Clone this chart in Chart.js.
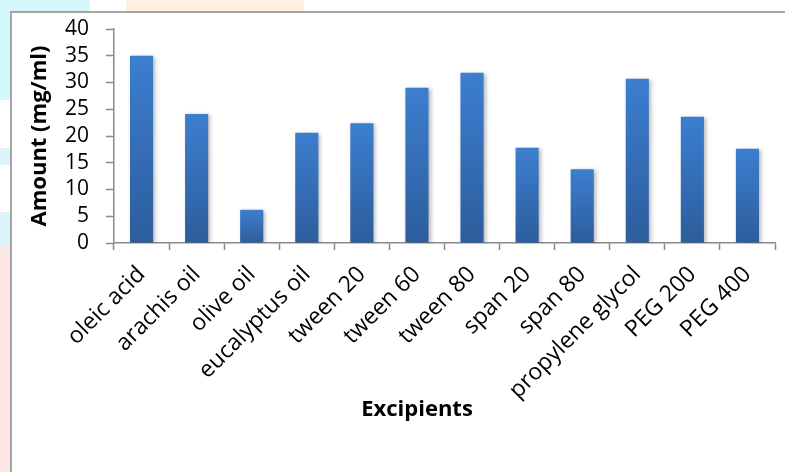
<!DOCTYPE html>
<html>
<head>
<meta charset="utf-8">
<script src="https://cdn.jsdelivr.net/npm/chart.js@4.4.1/dist/chart.umd.min.js"></script>
<style>
  html, body { margin: 0; padding: 0; background: #fff; }
  #wrap { width: 785px; height: 472px; position: relative; }
</style>
</head>
<body>
<div id="wrap"><canvas id="excipientChart" width="785" height="472"></canvas></div>
<script>
// solubility per excipient
const excipients = ['oleic acid', 'arachis oil', 'olive oil', 'eucalyptus oil', 'tween 20', 'tween 60',
                    'tween 80', 'span 20', 'span 80', 'propylene glycol', 'PEG 200', 'PEG 400'];
const amounts = [35.0, 24.1, 6.2, 20.6, 22.4, 29.0, 31.8, 17.8, 13.8, 30.7, 23.6, 17.6];
const yTicks = [0, 5, 10, 15, 20, 25, 30, 35, 40];
const xTitle = 'Excipients';

const axisGray = '#8a8a8a';
const fontFamily = '"Open Sans", Lato, sans-serif';

// chart frame; its right side runs past the canvas edge
const FRAME_LEFT = 11, FRAME_TOP = 12, FRAME_RIGHT = 823;

// vertical blue gradient for the bars, lighter at the top
function barGradient(context) {
    const chart = context.chart;
    if (!chart.chartArea) return '#3a7bcc';
    const y0 = chart.scales.y.getPixelForValue(0);
    const yTop = chart.scales.y.getPixelForValue(context.raw || 0);
    const g = chart.ctx.createLinearGradient(0, yTop, 0, y0);
    g.addColorStop(0, '#3c7ed0');
    g.addColorStop(1, '#2d5d9c');
    return g;
}

// page background bits and the outer frame
const backdrop = {
    id: 'backdrop',
    beforeDraw(chart) {
        const ctx = chart.ctx;
        ctx.save();
        ctx.fillStyle = '#fff';
        ctx.fillRect(0, 0, chart.width, chart.height);
        ctx.fillStyle = '#d4f8fb';
        ctx.fillRect(0, 0, 90, FRAME_TOP);
        ctx.fillRect(0, 0, FRAME_LEFT, 100);
        ctx.fillStyle = '#dbf4fa';
        ctx.fillRect(0, 148, FRAME_LEFT, 17);
        ctx.fillRect(0, 212, FRAME_LEFT, 33);
        ctx.fillStyle = '#fde6e6';
        ctx.fillRect(0, 245, FRAME_LEFT, 227);
        ctx.fillStyle = '#fff0df';
        ctx.fillRect(126, 0, 178, FRAME_TOP);
        ctx.strokeStyle = axisGray;
        ctx.lineWidth = 1.5;
        ctx.beginPath();
        ctx.moveTo(FRAME_LEFT, chart.height);
        ctx.lineTo(FRAME_LEFT, FRAME_TOP);
        ctx.lineTo(chart.width, FRAME_TOP);
        ctx.stroke();
        ctx.restore();
    },
    afterDraw(chart) {
        // x axis title, centred on the frame
        const ctx = chart.ctx;
        ctx.save();
        ctx.fillStyle = '#000';
        ctx.font = 'bold 22px ' + fontFamily;
        ctx.textAlign = 'center';
        ctx.textBaseline = 'middle';
        ctx.fillText(xTitle, (FRAME_LEFT + FRAME_RIGHT) / 2, chart.scales.x.bottom - 15);
        ctx.restore();
    }
};

// soft drop shadow under the bars
const barShadow = {
    id: 'barShadow',
    beforeDatasetDraw(chart) {
        const ctx = chart.ctx;
        ctx.save();
        ctx.shadowColor = 'rgba(0,0,0,0.28)';
        ctx.shadowBlur = 4;
        ctx.shadowOffsetX = 2;
        ctx.shadowOffsetY = 1;
    },
    afterDatasetDraw(chart) {
        chart.ctx.restore();
    }
};

new Chart(document.getElementById('excipientChart'), {
    type: 'bar',
    data: {
        labels: excipients,
        datasets: [{
            data: amounts,
            backgroundColor: barGradient,
            borderWidth: 0,
            categoryPercentage: 1.0,
            barPercentage: 0.42
        }]
    },
    options: {
        responsive: false,
        animation: false,
        events: [],
        layout: { padding: { left: 23, top: 29, right: 10, bottom: 47 } },
        plugins: {
            legend: { display: false },
            tooltip: { enabled: false }
        },
        scales: {
            x: {
                afterFit(scale) { scale.height = 182; },
                grid: {
                    offset: true,
                    drawOnChartArea: false,
                    drawTicks: true,
                    tickLength: 7,
                    tickWidth: 1.5,
                    tickColor: axisGray
                },
                border: { color: axisGray, width: 1.5 },
                ticks: {
                    autoSkip: false,
                    maxRotation: 45,
                    minRotation: 45,
                    padding: 11,
                    color: '#000',
                    font: { family: fontFamily, size: 23 }
                }
            },
            y: {
                min: 0,
                max: 40,
                afterFit(scale) { scale.width = 91; },
                afterBuildTicks(scale) { scale.ticks = yTicks.map(v => ({ value: v })); },
                grid: {
                    drawOnChartArea: false,
                    drawTicks: true,
                    tickLength: 8,
                    tickWidth: 1.5,
                    tickColor: axisGray
                },
                border: { color: axisGray, width: 1.5 },
                ticks: {
                    autoSkip: false,
                    padding: 17,
                    color: '#000',
                    font: { family: fontFamily, size: 21, lineHeight: 1 }
                },
                title: {
                    display: true,
                    text: 'Amount (mg/ml)',
                    color: '#000',
                    padding: { top: 4, bottom: 4 },
                    font: { family: fontFamily, size: 22, weight: 'bold' }
                }
            }
        }
    },
    plugins: [backdrop, barShadow]
});
</script>
</body>
</html>
